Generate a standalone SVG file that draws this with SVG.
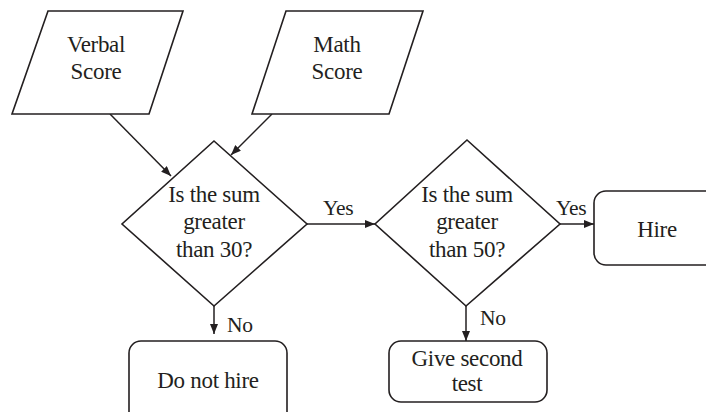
<svg xmlns="http://www.w3.org/2000/svg" width="706" height="412" viewBox="0 0 706 412">
<defs>
<style>
.s{fill:#fff;stroke:#231f20;stroke-width:1.6;stroke-linejoin:miter}
.t{font-family:"Liberation Serif","Times New Roman",serif;font-size:23px;fill:#231f20;text-anchor:middle;letter-spacing:-0.3px}
.c{fill:none;stroke:#231f20;stroke-width:1.5}
.l{font-family:"Liberation Serif","Times New Roman",serif;font-size:21.5px;fill:#231f20;letter-spacing:-0.3px}
</style>
<marker id="ah" viewBox="0 0 10 8" refX="10" refY="4" markerWidth="10" markerHeight="8" markerUnits="userSpaceOnUse" orient="auto">
<path d="M0,0 L10,4 L0,8 Z" fill="#231f20"/>
</marker>
</defs>
<rect width="706" height="412" fill="#fff"/>
<g id="connectors">
<line class="c" x1="110" y1="114" x2="171" y2="176" marker-end="url(#ah)"/>
<line class="c" x1="272" y1="114" x2="231" y2="155" marker-end="url(#ah)"/>
<line class="c" x1="307" y1="224" x2="375" y2="224" marker-end="url(#ah)"/>
<line class="c" x1="214" y1="306" x2="214" y2="334" marker-end="url(#ah)"/>
<line class="c" x1="560" y1="224" x2="594" y2="224" marker-end="url(#ah)"/>
<line class="c" x1="466" y1="306" x2="466" y2="341" marker-end="url(#ah)"/>
<text class="l" x="323" y="215">Yes</text>
<text class="l" x="227" y="332">No</text>
<text class="l" x="556" y="215">Yes</text>
<text class="l" x="480" y="325">No</text>
</g>
<g id="verbal">
<polygon class="s" points="48,11 183,11 149,114 12,114"/>
<text class="t" x="96" y="52">Verbal</text>
<text class="t" x="96" y="79">Score</text>
</g>
<g id="math">
<polygon class="s" points="286,11 423,11 389,114 252,114"/>
<text class="t" x="337" y="52">Math</text>
<text class="t" x="337" y="79">Score</text>
</g>
<g id="decision30">
<polygon class="s" points="214,141 307,224 214,306 122,224"/>
<text class="t" x="214" y="202">Is the sum</text>
<text class="t" x="214" y="229">greater</text>
<text class="t" x="214" y="257">than 30?</text>
</g>
<g id="decision50">
<polygon class="s" points="467,140 560,224 466,306 375,224"/>
<text class="t" x="467" y="202">Is the sum</text>
<text class="t" x="467" y="229">greater</text>
<text class="t" x="467" y="257">than 50?</text>
</g>
<g id="hire">
<rect class="s" x="594" y="191" width="130" height="74" rx="12"/>
<text class="t" x="657" y="237">Hire</text>
</g>
<g id="donothire">
<rect class="s" x="129" y="341" width="158" height="90" rx="12"/>
<text class="t" x="208" y="388">Do not hire</text>
</g>
<g id="secondtest">
<rect class="s" x="389" y="341" width="158" height="61" rx="12"/>
<text class="t" x="467" y="366">Give second</text>
<text class="t" x="467" y="391">test</text>
</g>
</svg>
